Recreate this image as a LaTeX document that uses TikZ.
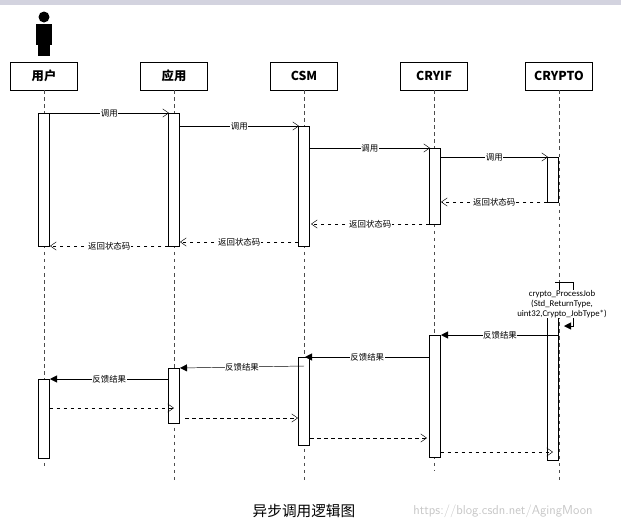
\documentclass[tikz,border=0pt]{standalone}
\usepackage{fontspec}
\setmainfont{Carlito}
\newfontfamily\cjk{Noto Sans CJK SC}
\usetikzlibrary{arrows.meta}
\usetikzlibrary{positioning}
\tikzset{
	every path/.style = {thin},
	head/.style = {draw, fill=white, minimum width=2.0cm, minimum height=0.84cm, font=\cjk\bfseries\fontsize{10.5}{12}\selectfont},
	act/.style = {draw, fill=white},
	life/.style = {dashed, gray!60!black},
	call/.style = {-{Straight Barb[length=5pt,width=7pt]}},
	back/.style = {dashed, -{Straight Barb[length=5pt,width=7pt]}},
	res/.style = {-{Triangle[length=6pt,width=6pt]}},
	lbl/.style = {fill=white, inner sep=0.5pt, font=\cjk\fontsize{7.2}{8}\selectfont}
}
\begin{document}
\begin{tikzpicture}[x=0.03cm,y=-0.03cm]
	\useasboundingbox (0,0) rectangle (621,526);
	\fill[blue!15!gray!30] (0,0) rectangle (621,5);
	% actor
	\fill (44,17) circle (5.5);
	\fill (36,24) rectangle (52,45);
	\fill (38,45) rectangle (50,56);
	% heads and lifelines
	\foreach \n/\x/\t/\e in {u/44/用户/468, a/174/应用/480, s/304/CSM/480, f/434/CRYIF/470, c/559/CRYPTO/480} {
		\node[head] (\n) at (\x,76) {\t};
		\draw[life] (\n.south) -- (\x,\e);
	}
	% activations
	\foreach \x/\a/\b in {44/113/246, 174/113/246, 304/126/246, 435/148/224, 553/157/202,
		44/379/458, 174/368/423, 304/357/445, 435/335/457, 553/290/460}
		\draw[act] (\x-5.5,\a) rectangle (\x+5.5,\b);
	% calls
	\draw[call] (49.5,113) -- node[lbl] {调用} (169,113);
	\draw[call] (179.5,126) -- node[lbl] {调用} (299,126);
	\draw[call] (309.5,148) -- node[lbl] {调用} (430,148);
	\draw[call] (440.5,157) -- node[lbl] {调用} (548,157);
	% returns
	\draw[back] (547.5,202) -- node[lbl] {返回状态码} (441,202);
	\draw[back] (429.5,224) -- node[lbl] {返回状态码} (311,224);
	\draw[back] (298.5,242) -- node[lbl] {返回状态码} (180,242);
	\draw[back] (168.5,246) -- node[lbl] {返回状态码} (50,246);
	% self call
	\draw[res] (555,282) -- (573,282) -- (573,326) -- (564,326);
	\draw (559,282) -- (559,290);
	\node[draw=none, fill=white, inner sep=0.5pt, align=center, font=\fontsize{7.5}{8.5}\selectfont] (job) at (562,304)
		{crypto\_ProcessJob\\(Std\_ReturnType,\\uint32,Crypto\_JobType*)};
	% results
	\draw[res] (559,335) -- node[lbl] {反馈结果} (441,335);
	\draw[res] (429.5,357) -- node[lbl] {反馈结果} (305,357);
	\draw[res] (304,366) -- node[lbl] {反馈结果} (180,368);
	\draw[res] (168.5,379) -- node[lbl] {反馈结果} (50,379);
	% acknowledgements
	\draw[back] (49.5,408) -- (174,408);
	\draw[back] (185,418) -- (298,418);
	\draw[back] (310,438) -- (427,438);
	\draw[back] (440.5,452) -- (553,452);
	% caption
	\node[draw=none, font=\cjk\fontsize{12.5}{14}\selectfont] (cap) at (304,511) {异步调用逻辑图};
	\node[draw=none, text=gray!45, font=\sffamily\fontsize{11}{12}\selectfont] (wm) at (503,511) {https://blog.csdn.net/AgingMoon};
\end{tikzpicture}
\end{document}
